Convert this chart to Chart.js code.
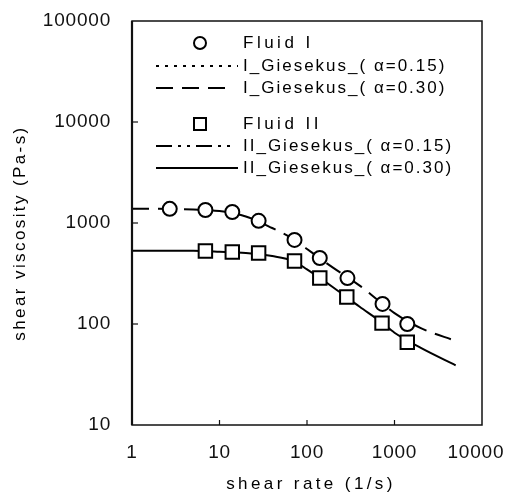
<!DOCTYPE html>
<html><head><meta charset="utf-8">
<script src="https://cdn.jsdelivr.net/npm/chart.js@4/dist/chart.umd.min.js"></script>
<style>html,body{margin:0;padding:0;background:#fff;}#wrap{width:507px;height:497px;}</style>
</head><body><div id="wrap"><canvas id="c" width="507" height="497"></canvas></div>
<script>
// measured data
const fluidIRate  = [2.7, 6.9, 14, 28, 72, 140, 290, 730, 1400];
const fluidIVisc  = [1380, 1345, 1285, 1050, 680, 450, 285, 158, 100];
const fluidIIRate = [6.9, 14, 28, 72, 140, 285, 720, 1400];
const fluidIIVisc = [528, 516, 505, 421, 285, 185, 102, 66];
// Giesekus model curves
const modelRate   = [1, 2, 5, 10, 20, 40, 70, 100, 200, 400, 700, 1000, 2000, 5000];
const modelI_030  = [1380, 1380, 1360, 1314, 1160, 892, 694, 553, 359, 240, 163, 128, 91, 68];
const modelII_030 = [530, 530, 530, 520, 505, 471, 420, 347, 230, 148, 105, 82, 58, 39];
const modelI_015  = [];   // not distinguishable in the figure
const modelII_015 = [];
const seriesLabels = ['Fluid I', 'I_Giesekus_( \u03b1=0.15)', 'I_Giesekus_( \u03b1=0.30)',
                      'Fluid II', 'II_Giesekus_( \u03b1=0.15)', 'II_Giesekus_( \u03b1=0.30)'];
const xTickValues = [1, 10, 100, 1000, 10000];
const yTickValues = [10, 100, 1000, 10000, 100000];
const xTitle = 'shear rate (1/s)';
const yTitle = 'shear viscosity (Pa-s)';

const pts = (xs, ys) => xs.map((x, i) => ({x: x, y: ys[i]}));
const FONT = "'Liberation Sans', Arial, sans-serif";

const datasets = [
  {label: seriesLabels[0], data: pts(fluidIRate, fluidIVisc), showLine: false, pointStyle: 'circle',
   pointRadius: 7, pointBorderWidth: 2, pointBackgroundColor: '#fff', pointBorderColor: '#000', order: 0},
  {label: seriesLabels[1], data: pts(modelRate, modelI_015), showLine: true, pointRadius: 0,
   borderColor: '#000', borderWidth: 2, borderDash: [3, 6], order: 1},
  {label: seriesLabels[2], data: pts(modelRate, modelI_030), showLine: true, pointRadius: 0,
   borderColor: '#000', borderWidth: 2, borderDash: [17, 9], cubicInterpolationMode: 'monotone', order: 1},
  {label: seriesLabels[3], data: pts(fluidIIRate, fluidIIVisc), showLine: false, pointStyle: 'rect',
   pointRadius: 9.5, pointBorderWidth: 2, pointBackgroundColor: '#fff', pointBorderColor: '#000', order: 0},
  {label: seriesLabels[4], data: pts(modelRate, modelII_015), showLine: true, pointRadius: 0,
   borderColor: '#000', borderWidth: 2, borderDash: [16, 6, 3, 6, 3, 6], order: 1},
  {label: seriesLabels[5], data: pts(modelRate, modelII_030), showLine: true, pointRadius: 0,
   borderColor: '#000', borderWidth: 2, cubicInterpolationMode: 'monotone', order: 1}
];

const legendRows = [43, 66, 88, 124, 146, 168];

const framePlugin = {
  id: 'frame',
  beforeDraw(chart) {
    const ctx = chart.ctx;
    ctx.save(); ctx.fillStyle = '#fff'; ctx.fillRect(0, 0, chart.width, chart.height); ctx.restore();
    ctx.letterSpacing = '0.8px';
  },
  afterDraw(chart) {
    const ctx = chart.ctx, a = chart.chartArea;
    const xs = chart.scales.x, ys = chart.scales.y;
    ctx.save();
    ctx.letterSpacing = '0px';
    ctx.strokeStyle = '#111';
    ctx.lineWidth = 1.5;
    ctx.strokeRect(a.left, a.top, a.right - a.left, a.bottom - a.top);
    ctx.lineWidth = 2.2;
    ctx.beginPath(); ctx.moveTo(a.left, a.top); ctx.lineTo(a.left, a.bottom); ctx.stroke();
    // inward ticks
    ctx.lineWidth = 1.2;
    yTickValues.slice(1, -1).forEach(v => {
      const y = ys.getPixelForValue(v);
      ctx.beginPath(); ctx.moveTo(a.left, y); ctx.lineTo(a.left + 6, y); ctx.stroke();
    });
    xTickValues.slice(1, -1).forEach(v => {
      const x = xs.getPixelForValue(v);
      ctx.beginPath(); ctx.moveTo(x, a.bottom); ctx.lineTo(x, a.bottom - 5); ctx.stroke();
    });
    // legend
    ctx.fillStyle = '#000';
    ctx.font = '17px ' + FONT;
    ctx.textBaseline = 'middle';
    datasets.forEach((ds, i) => {
      const y = legendRows[i];
      ctx.save();
      ctx.strokeStyle = '#000';
      ctx.lineWidth = 2;
      if (ds.showLine === false) {
        ctx.fillStyle = '#fff';
        ctx.beginPath();
        if (ds.pointStyle === 'circle') ctx.arc(200, y, 6, 0, Math.PI * 2);
        else ctx.rect(194, y - 6, 12, 12);
        ctx.fill(); ctx.stroke();
      } else {
        ctx.setLineDash(ds.borderDash || []);
        ctx.beginPath(); ctx.moveTo(156, y); ctx.lineTo(i === 1 || i === 5 ? 238 : 230, y); ctx.stroke();
      }
      ctx.restore();
      ctx.letterSpacing = (i === 0 || i === 3) ? '3.5px' : '2px';
      ctx.textAlign = 'left';
      ctx.fillText(ds.label, 243, y);
    });
    // axis titles
    ctx.font = '17px ' + FONT;
    ctx.letterSpacing = '3.4px';
    ctx.textAlign = 'center';
    ctx.fillText(xTitle, 311, 484);
    ctx.save();
    ctx.translate(20, 233);
    ctx.rotate(-Math.PI / 2);
    ctx.letterSpacing = '2.4px';
    ctx.fillText(yTitle, 0, 0);
    ctx.restore();
    ctx.restore();
    ctx.letterSpacing = '0px';
  }
};

const noPad = s => { s.paddingLeft = 0; s.paddingRight = 0; s.paddingTop = 0; s.paddingBottom = 0; };

new Chart(document.getElementById('c'), {
  type: 'scatter',
  data: {datasets: datasets},
  options: {
    responsive: false, animation: false, devicePixelRatio: 1,
    layout: {padding: {top: 21, right: 25, left: 0, bottom: 0}},
    plugins: {legend: {display: false}, tooltip: {enabled: false}},
    scales: {
      x: {
        type: 'logarithmic', position: 'bottom', min: 1, max: 10000,
        afterBuildTicks: s => { s.ticks = xTickValues.map(v => ({value: v})); },
        afterFit: s => { s.height = 72; noPad(s); },
        ticks: {callback: v => v === 10000 ? String(v) + '\u00a0\u00a0' : String(v),
                font: {family: FONT, size: 19}, color: '#111',
                padding: 16, maxRotation: 0, autoSkip: false},
        grid: {drawOnChartArea: false, drawTicks: false},
        border: {display: false}
      },
      y: {
        type: 'logarithmic', position: 'left', min: 10, max: 100000,
        afterBuildTicks: s => { s.ticks = yTickValues.map(v => ({value: v})); },
        afterFit: s => { s.width = 132; noPad(s); },
        ticks: {callback: v => String(v), font: {family: FONT, size: 19}, color: '#111',
                padding: 21, autoSkip: false},
        grid: {drawOnChartArea: false, drawTicks: false},
        border: {display: false}
      }
    }
  },
  plugins: [framePlugin]
});
</script></body></html>
